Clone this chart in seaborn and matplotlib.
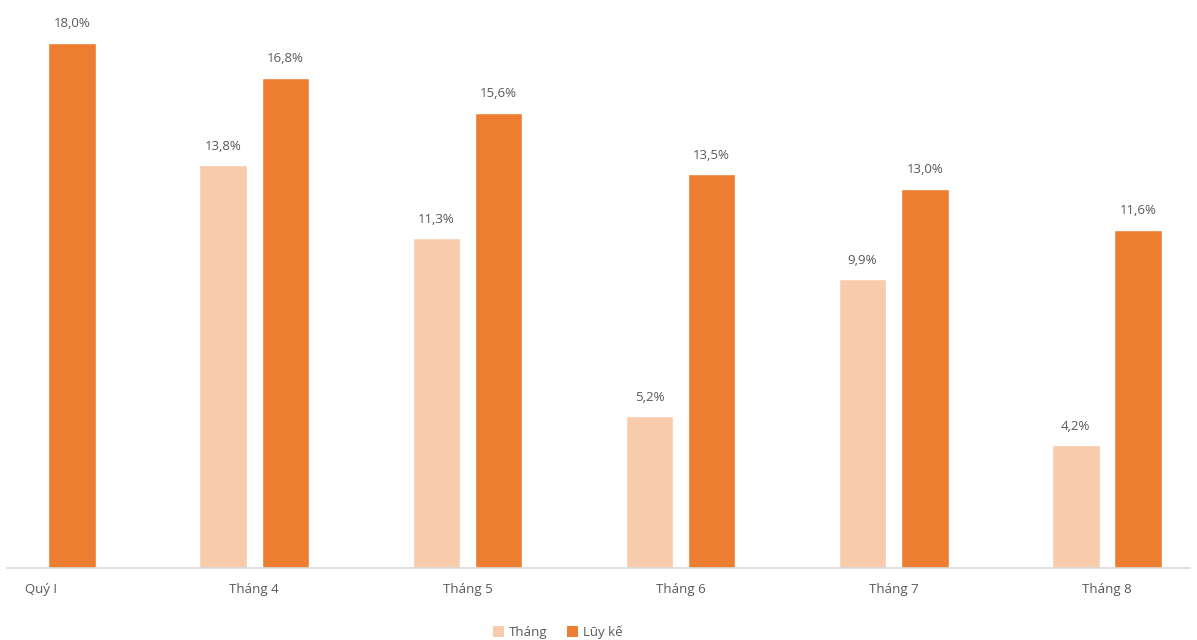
import matplotlib
matplotlib.use("Agg")
import matplotlib.pyplot as plt
import seaborn as sns
import pandas as pd
import numpy as np

categories = ["Quý I", "Tháng 4", "Tháng 5", "Tháng 6", "Tháng 7", "Tháng 8"]
thang = [np.nan, 13.8, 11.3, 5.2, 9.9, 4.2]
luy_ke = [18.0, 16.8, 15.6, 13.5, 13.0, 11.6]
series_names = ["Tháng", "Lũy kế"]
colors = ["#F8CBAD", "#ED7D31"]

df = pd.DataFrame({
    "cat": categories * 2,
    "val": thang + luy_ke,
    "series": [series_names[0]] * len(categories) + [series_names[1]] * len(categories),
})

sns.set_style("white")
plt.rcParams["font.family"] = ["Open Sans", "DejaVu Sans"]

fig = plt.figure(figsize=(11.97, 6.40), dpi=100)
ax = fig.add_axes([7 / 1197, 1 - 568 / 640, (1190 - 7) / 1197, 568 / 640])

sns.barplot(data=df, x="cat", y="val", hue="series", order=categories,
            hue_order=series_names, palette=colors, width=0.584, gap=0.236,
            saturation=1, ax=ax, legend=False, errorbar=None)

for cont in ax.containers:
    labels = []
    for v in cont.datavalues:
        labels.append("" if np.isnan(v) else f"{v:.1f}".replace(".", ",") + "%")
    ax.bar_label(cont, labels=labels, padding=9, fontsize=9.5, color="#595959")

ax.set_xlim(-0.16, 5.39)
ax.set_ylim(0, 568 / 29.17)
ax.set_xlabel("")
ax.set_ylabel("")
ax.set_yticks([])
for s in ["top", "right", "left"]:
    ax.spines[s].set_visible(False)
ax.spines["bottom"].set_color("#D9D9D9")
ax.spines["bottom"].set_linewidth(1.2)
ax.tick_params(axis="x", length=0, pad=11, labelsize=9.5, labelcolor="#595959")

from matplotlib.patches import Patch
handles = [Patch(facecolor=c, edgecolor="none") for c in colors]
fig.legend(handles, series_names, loc="center", bbox_to_anchor=(0.466, 0.012),
           ncol=2, frameon=False, fontsize=9.5, labelcolor="#595959",
           handlelength=0.8, handleheight=0.8, handletextpad=0.4, columnspacing=1.5)

fig.savefig("out.png", dpi=100)
